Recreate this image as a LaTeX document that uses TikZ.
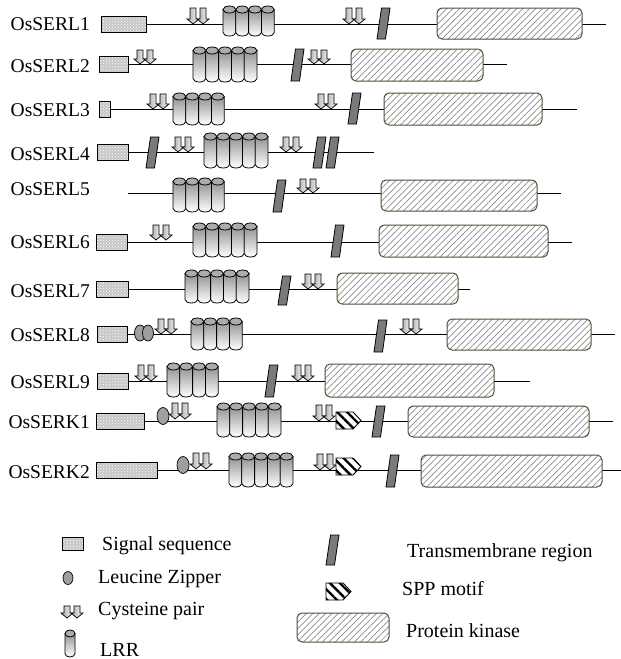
\documentclass[tikz,border=0pt]{standalone}
\usepackage{fontspec}
\setmainfont{Liberation Serif}
\usetikzlibrary{patterns,patterns.meta}
\definecolor{kinb}{RGB}{80,80,50}
\definecolor{tmg}{RGB}{122,122,122}
\tikzset{
  backbone/.style={line width=1pt},
  lbl/.style={anchor=base east, inner sep=0pt, font=\fontsize{19.5}{22}\selectfont},
  leg/.style={anchor=base west, inner sep=0pt, font=\fontsize{20}{22}\selectfont},
}
% signal sequence box: x1 x2 ytop ybot
\newcommand\sigb[4]{%
  \fill[gray!45] (#1,#3) rectangle (#2,#4);
  \fill[pattern=crosshatch dots, pattern color=white] (#1,#3) rectangle (#2,#4);
  \draw[line width=0.9pt] (#1,#3) rectangle (#2,#4);}
% one cylinder: x w ytop ybot
\newcommand\cylr[4]{%
  \pgfmathsetmacro\cylrx{(#2)/2}%
  \shadedraw[top color=gray!85, bottom color=white, line width=0.8pt]
    (#1,#3+3.5) -- (#1,#4-3.5) arc[start angle=180,end angle=360,x radius=\cylrx pt,y radius=3.5pt]
    -- (#1+#2,#3+3.5) -- cycle;
  \filldraw[fill=gray!65, line width=0.8pt] (#1+\cylrx,#3+3.5) ellipse[x radius=\cylrx pt, y radius=3.5pt];}
% LRR group: x n ytop ybot
\newcommand\lrr[4]{%
  \foreach \ci in {1,...,#2}{\pgfmathsetmacro\cylxx{#1+(\ci-1)*12.8}\cylr{\cylxx}{12.8}{#3}{#4}}}
% cysteine pair: x ytip height
\newcommand\cysa[3]{%
  \foreach \dx in {0,10}{%
    \shadedraw[left color=gray!70, right color=white, line width=0.7pt]
      (#1+\dx+3,#2-#3) -- (#1+\dx+9,#2-#3) -- (#1+\dx+9,#2-5) -- (#1+\dx+12,#2-5)
      -- (#1+\dx+6,#2) -- (#1+\dx,#2-5) -- (#1+\dx+3,#2-5) -- cycle;}}
% transmembrane: x ytop ybot
\newcommand\tmr[3]{%
  \filldraw[fill=tmg, line width=0.8pt] (#1,#3) -- (#1+8.5,#3) -- (#1+13,#2) -- (#1+4.5,#2) -- cycle;}
% kinase: x1 x2 ytop ybot
\newcommand\kin[4]{%
  \fill[white, rounded corners=5pt] (#1,#3) rectangle (#2,#4);
  \draw[kinb, line width=1pt, rounded corners=5pt,
        pattern={Lines[angle=45,distance=4.5pt,line width=0.7pt]}, pattern color=gray!90]
        (#1,#3) rectangle (#2,#4);}
% SPP motif: x ytop ybot
\newcommand\sppm[3]{%
  \pgfmathsetmacro\sppmid{(#2+#3)/2}%
  \fill[white] (#1,#2) -- (#1+17,#2) -- (#1+25,\sppmid) -- (#1+17,#3) -- (#1,#3) -- cycle;
  \fill[pattern={Lines[angle=-45,distance=7pt,line width=2.4pt]}, pattern color=black]
    (#1,#2) -- (#1+17,#2) -- (#1+25,\sppmid) -- (#1+17,#3) -- (#1,#3) -- cycle;
  \draw[line width=0.9pt] (#1,#2) -- (#1+17,#2) -- (#1+25,\sppmid) -- (#1+17,#3) -- (#1,#3) -- cycle;}
% leucine zipper: x y rx ry
\newcommand\lzip[4]{%
  \filldraw[fill=gray!75, line width=0.7pt] (#1,#2) ellipse[x radius=#3pt, y radius=#4pt];}

\begin{document}
\begin{tikzpicture}[x=1pt,y=-1pt]
\useasboundingbox (0,0) rectangle (621,659);

% ---------- labels
\node[lbl] (l1) at (90,30) {OsSERL1};
\node[lbl] (l2) at (90,72) {OsSERL2};
\node[lbl] (l3) at (90,116) {OsSERL3};
\node[lbl] (l4) at (90,160) {OsSERL4};
\node[lbl] (l5) at (90,195) {OsSERL5};
\node[lbl] (l6) at (90,248) {OsSERL6};
\node[lbl] (l7) at (90,297) {OsSERL7};
\node[lbl] (l8) at (90,341) {OsSERL8};
\node[lbl] (l9) at (90,388) {OsSERL9};
\node[lbl] (k1) at (90,428) {OsSERK1};
\node[lbl] (k2) at (90,478) {OsSERK2};

% ---------- row 1
\draw[backbone] (146,24) -- (606,24);
\sigb{101}{146}{16}{32}
\cysa{187}{24}{16}
\lrr{223}{4}{6}{36}
\cysa{343}{24}{16}
\tmr{377}{8}{39}
\kin{437}{582}{8}{39}

% ---------- row 2
\draw[backbone] (128,64) -- (507,64);
\sigb{99}{128}{56}{72}
\cysa{134}{64}{14}
\lrr{193}{5}{47}{82}
\tmr{291}{49}{81}
\cysa{308}{64}{14}
\kin{351}{483}{49}{81}

% ---------- row 3
\draw[backbone] (110,109) -- (577,109);
\sigb{99}{110}{101}{117}
\cysa{147}{109}{15}
\lrr{173}{4}{93}{125}
\cysa{315}{109}{15}
\tmr{348}{93}{124}
\kin{384}{542}{93}{125}

% ---------- row 4
\draw[backbone] (128,152) -- (374,152);
\sigb{97}{128}{144}{160}
\tmr{146}{137}{168}
\cysa{172}{152}{15}
\lrr{204}{5}{133}{168}
\cysa{280}{152}{15}
\tmr{313}{137}{168}
\tmr{326}{137}{168}

% ---------- row 5
\draw[backbone] (128,193) -- (561,193);
\lrr{173}{4}{178}{212}
\tmr{273}{180}{212}
\cysa{297}{193}{14}
\kin{381}{537}{180}{211}

% ---------- row 6
\draw[backbone] (127,242) -- (572,242);
\sigb{96}{127}{234}{250}
\cysa{150}{240}{15}
\lrr{193}{5}{223}{257}
\tmr{331}{225}{257}
\kin{379}{548}{225}{257}

% ---------- row 7
\draw[backbone] (128,289) -- (470,289);
\sigb{96}{128}{281}{297}
\lrr{185}{5}{270}{303}
\tmr{278}{276}{305}
\cysa{302}{289}{15}
\kin{337}{458}{273}{304}

% ---------- row 8
\draw[backbone] (127,334) -- (615,334);
\sigb{97}{127}{326}{342}
\lzip{140}{333}{5.5}{8}
\lzip{148}{333}{5.5}{8}
\cysa{155}{334}{15}
\lrr{191}{4}{318}{350}
\tmr{374}{320}{352}
\cysa{400}{334}{15}
\kin{447}{591}{319}{350}

% ---------- row 9
\draw[backbone] (128,381) -- (530,381);
\sigb{97}{128}{373}{389}
\cysa{135}{381}{16}
\lrr{167}{4}{363}{397}
\tmr{265}{365}{397}
\cysa{292}{381}{16}
\kin{325}{494}{364}{397}

% ---------- SERK1
\draw[backbone] (144,421) -- (613,421);
\sigb{96}{144}{413}{429}
\lzip{163}{416}{6}{8.5}
\cysa{169}{419}{16}
\lrr{217}{5}{403}{437}
\cysa{313}{421}{16}
\sppm{336}{412}{429}
\tmr{372}{406}{437}
\kin{408}{589}{406}{437}

% ---------- SERK2
\draw[backbone] (157,470) -- (621,470);
\sigb{96}{157}{462}{478}
\lzip{183}{465}{6}{8.5}
\cysa{190}{469}{16}
\lrr{229}{5}{453}{487}
\cysa{314}{470}{16}
\sppm{336}{458}{475}
\tmr{386}{455}{487}
\kin{421}{602}{455}{487}

% ---------- legend
\sigb{62}{83}{537}{550}
\node[leg] (t1) at (102,550) {Signal sequence};
\lzip{68}{578}{5}{6.5}
\node[leg] (t2) at (98,583) {Leucine Zipper};
\cysa{61}{618}{12}
\node[leg] (t3) at (98,615) {Cysteine pair};
\cylr{65}{10}{630}{657}
\node[leg] (t4) at (100,656) {LRR};
\tmr{326}{535}{565}
\node[leg] (t5) at (407,557) {Transmembrane region};
\sppm{326}{583}{600}
\node[leg] (t6) at (402,595) {SPP motif};
\kin{297}{389}{613}{642}
\node[leg] (t7) at (406,637) {Protein kinase};
\end{tikzpicture}
\end{document}
